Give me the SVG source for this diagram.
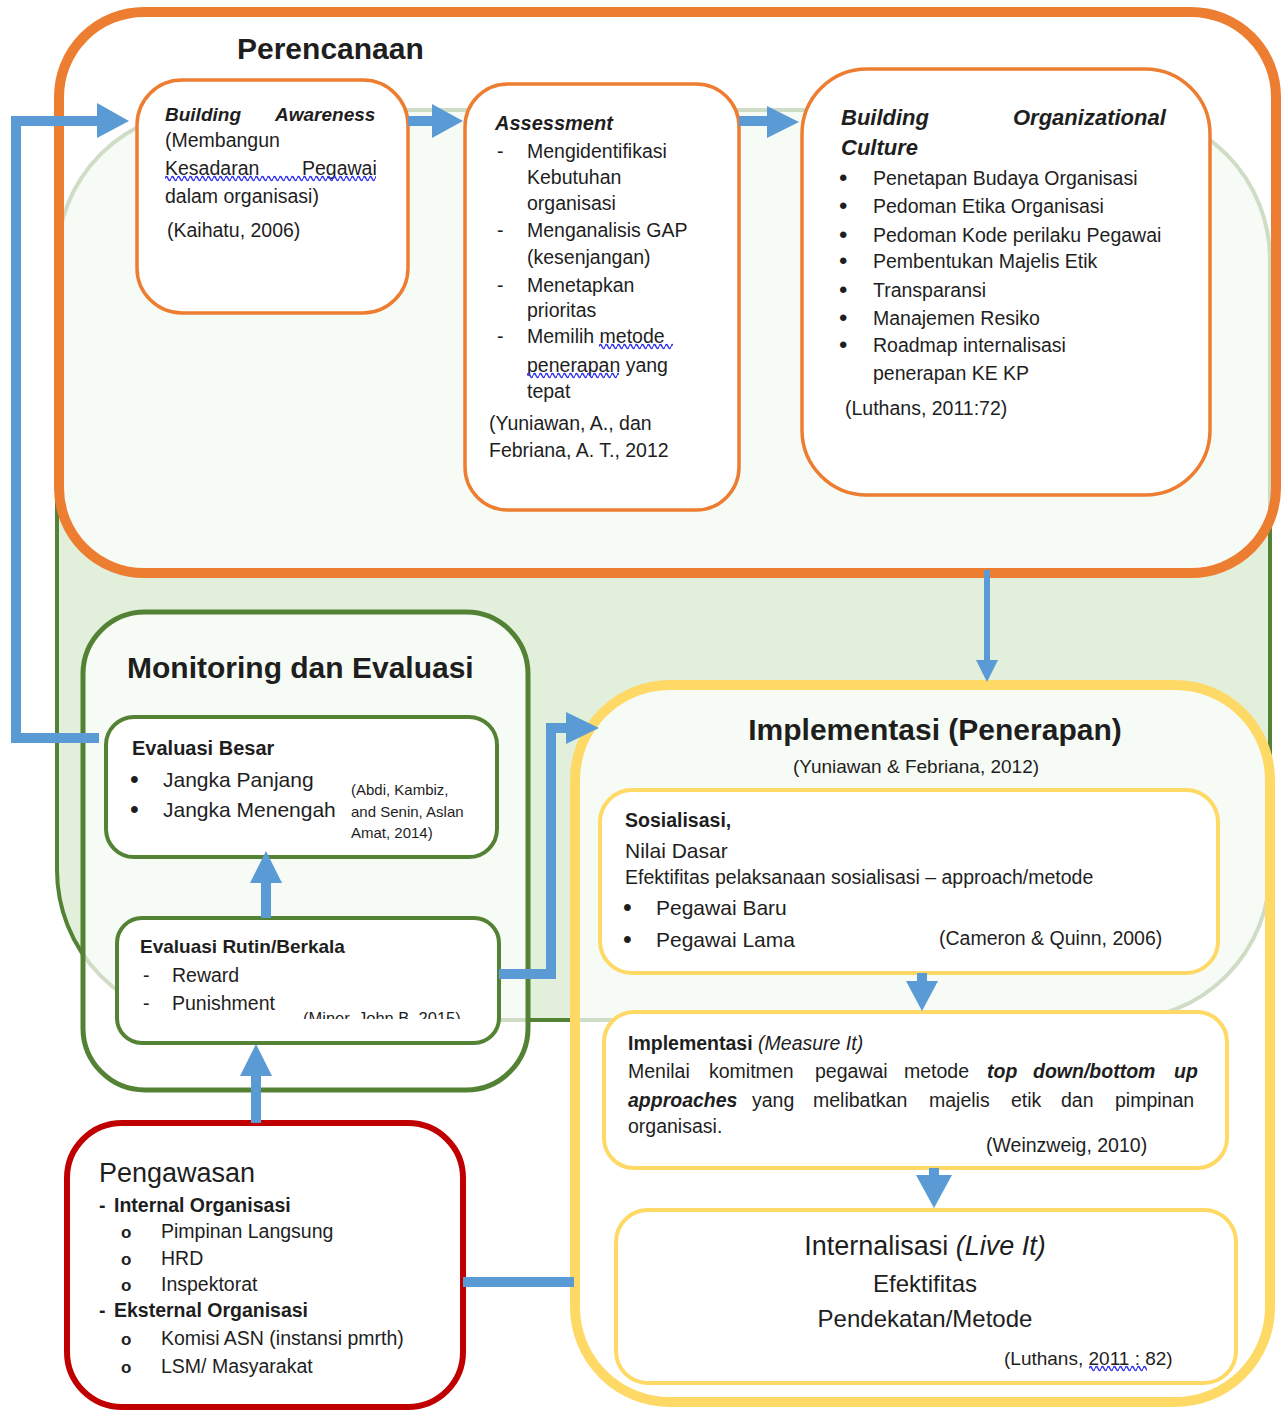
<svg xmlns="http://www.w3.org/2000/svg" width="1284" height="1412" viewBox="0 0 1284 1412" font-size="19.5">
<style>
.t{font-family:"Liberation Sans",Arial,sans-serif;fill:#1e1e1e}
.b{font-weight:bold}
.i{font-style:italic}
.outer{fill:#ffffff;fill-opacity:0.72}
.inner{fill:#ffffff}
.or{stroke:#ed7d31}
.gr{stroke:#548235}
.ye{stroke:#ffd966}
.con{stroke:#5b9bd5;fill:none}
.head{fill:#5b9bd5}
.sq{fill:url(#wavy)}
</style>
<defs>
<pattern id="wavy" width="6" height="7" patternUnits="userSpaceOnUse">
<path d="M0,3.5 Q1.5,-0.5 3,3.5 T6,3.5" fill="none" stroke="#3030f0" stroke-width="1.5"/>
</pattern>
<clipPath id="clipMiner"><rect x="290" y="990" width="200" height="29"/></clipPath>
</defs>
<rect width="1284" height="1412" fill="#ffffff"/>

<g id="background">
<rect x="57" y="110" width="1213" height="910" rx="150" fill="#e2efda" stroke="#548235" stroke-width="4"/>
</g>

<g id="perencanaan">
<rect class="outer or" x="59" y="12" width="1217" height="561" rx="85" stroke-width="10"/>
<text class="t b" x="237" y="59" font-size="30">Perencanaan</text>
</g>

<g id="monitoring">
<rect class="outer gr" x="83" y="612" width="445" height="478" rx="62" stroke-width="5"/>
<text class="t b" x="127" y="678" font-size="30">Monitoring dan Evaluasi</text>
</g>

<g id="implementasi">
<rect class="outer ye" x="575" y="685" width="695" height="717" rx="95" stroke-width="10"/>
<text class="t b" x="935" y="740" font-size="30" text-anchor="middle">Implementasi (Penerapan)</text>
<text class="t" x="916" y="773" font-size="19" text-anchor="middle">(Yuniawan &amp; Febriana, 2012)</text>
</g>

<g id="pengawasan">
<rect class="inner" x="67" y="1123" width="396" height="284" rx="55" stroke="#c00000" stroke-width="6"/>
<text class="t" x="99" y="1182" font-size="27">Pengawasan</text>
<text class="t b"><tspan x="99" y="1212">-</tspan><tspan x="114" y="1212">Internal Organisasi</tspan></text>
<text class="t"><tspan x="121" y="1238" font-size="17" font-weight="bold">o</tspan><tspan x="161" y="1238">Pimpinan Langsung</tspan></text>
<text class="t"><tspan x="121" y="1265" font-size="17" font-weight="bold">o</tspan><tspan x="161" y="1265">HRD</tspan></text>
<text class="t"><tspan x="121" y="1291" font-size="17" font-weight="bold">o</tspan><tspan x="161" y="1291">Inspektorat</tspan></text>
<text class="t b"><tspan x="99" y="1317">-</tspan><tspan x="114" y="1317">Eksternal Organisasi</tspan></text>
<text class="t"><tspan x="121" y="1345" font-size="17" font-weight="bold">o</tspan><tspan x="161" y="1345">Komisi ASN (instansi pmrth)</tspan></text>
<text class="t"><tspan x="121" y="1373" font-size="17" font-weight="bold">o</tspan><tspan x="161" y="1373">LSM/ Masyarakat</tspan></text>
</g>

<g id="building-awareness">
<rect class="inner or" x="137" y="80" width="271" height="233" rx="45" stroke-width="3.5"/>
<text class="t b i" font-size="19"><tspan x="165" y="121">Building</tspan><tspan x="275" y="121">Awareness</tspan></text>
<text class="t" x="165" y="147">(Membangun</text>
<text class="t"><tspan x="165" y="175">Kesadaran</tspan><tspan x="302" y="175">Pegawai</tspan></text>
<rect class="sq" width="211" height="7" transform="translate(165,175)"/>
<text class="t" x="165" y="203">dalam organisasi)</text>
<text class="t" x="167" y="237">(Kaihatu, 2006)</text>
</g>

<g id="assessment">
<rect class="inner or" x="465" y="84" width="274" height="426" rx="43" stroke-width="3.5"/>
<text class="t b i" x="495" y="130" font-size="20">Assessment</text>
<text class="t"><tspan x="497" y="158">-</tspan><tspan x="527" y="158">Mengidentifikasi</tspan><tspan x="527" y="184">Kebutuhan</tspan><tspan x="527" y="210">organisasi</tspan></text>
<text class="t"><tspan x="497" y="237">-</tspan><tspan x="527" y="237">Menganalisis GAP</tspan><tspan x="527" y="264">(kesenjangan)</tspan></text>
<text class="t"><tspan x="497" y="292">-</tspan><tspan x="527" y="292">Menetapkan</tspan><tspan x="527" y="317">prioritas</tspan></text>
<text class="t"><tspan x="497" y="343">-</tspan><tspan x="527" y="343">Memilih metode</tspan><tspan x="527" y="372">penerapan yang</tspan><tspan x="527" y="398">tepat</tspan></text>
<rect class="sq" width="74" height="7" transform="translate(599,343)"/>
<rect class="sq" width="92" height="7" transform="translate(527,372)"/>
<text class="t"><tspan x="489" y="430">(Yuniawan, A., dan</tspan><tspan x="489" y="457">Febriana, A. T., 2012</tspan></text>
</g>

<g id="building-culture">
<rect class="inner or" x="802" y="69" width="408" height="426" rx="65" stroke-width="3.5"/>
<text class="t b i" font-size="22"><tspan x="841" y="125">Building</tspan><tspan x="1013" y="125">Organizational</tspan><tspan x="841" y="155">Culture</tspan></text>
<text class="t"><tspan x="839" y="186" font-size="24">•</tspan><tspan x="873" y="185">Penetapan Budaya Organisasi</tspan></text>
<text class="t"><tspan x="839" y="214" font-size="24">•</tspan><tspan x="873" y="213">Pedoman Etika Organisasi</tspan></text>
<text class="t"><tspan x="839" y="243" font-size="24">•</tspan><tspan x="873" y="242">Pedoman Kode perilaku Pegawai</tspan></text>
<text class="t"><tspan x="839" y="269" font-size="24">•</tspan><tspan x="873" y="268">Pembentukan Majelis Etik</tspan></text>
<text class="t"><tspan x="839" y="298" font-size="24">•</tspan><tspan x="873" y="297">Transparansi</tspan></text>
<text class="t"><tspan x="839" y="326" font-size="24">•</tspan><tspan x="873" y="325">Manajemen Resiko</tspan></text>
<text class="t"><tspan x="839" y="353" font-size="24">•</tspan><tspan x="873" y="352">Roadmap internalisasi</tspan><tspan x="873" y="380">penerapan KE KP</tspan></text>
<text class="t" x="845" y="415">(Luthans, 2011:72)</text>
</g>

<g id="evaluasi-besar">
<rect class="inner gr" x="106" y="717" width="391" height="140" rx="28" stroke-width="4"/>
<text class="t b" x="132" y="755" font-size="20">Evaluasi Besar</text>
<text class="t" font-size="21"><tspan x="130" y="788" font-size="25">•</tspan><tspan x="163" y="787">Jangka Panjang</tspan></text>
<text class="t" font-size="21"><tspan x="130" y="818" font-size="25">•</tspan><tspan x="163" y="817">Jangka Menengah</tspan></text>
<text class="t" font-size="15"><tspan x="351" y="795">(Abdi, Kambiz,</tspan><tspan x="351" y="817">and Senin, Aslan</tspan><tspan x="351" y="838">Amat, 2014)</tspan></text>
</g>

<g id="evaluasi-rutin">
<rect class="inner gr" x="117" y="918" width="382" height="125" rx="25" stroke-width="4"/>
<text class="t b" x="140" y="953" font-size="19">Evaluasi Rutin/Berkala</text>
<text class="t"><tspan x="143" y="982">-</tspan><tspan x="172" y="982">Reward</tspan></text>
<text class="t"><tspan x="143" y="1010">-</tspan><tspan x="172" y="1010">Punishment</tspan></text>
<text class="t" x="303" y="1024" font-size="16.5" clip-path="url(#clipMiner)">(Miner, John B, 2015)</text>
</g>

<g id="sosialisasi">
<rect class="inner ye" x="600" y="790" width="618" height="183" rx="32" stroke-width="4"/>
<text class="t b" x="625" y="827">Sosialisasi,</text>
<text class="t" x="625" y="858" font-size="21">Nilai Dasar</text>
<text class="t" x="625" y="884">Efektifitas pelaksanaan sosialisasi – approach/metode</text>
<text class="t" font-size="21"><tspan x="623" y="916" font-size="25">•</tspan><tspan x="656" y="915">Pegawai Baru</tspan></text>
<text class="t" font-size="21"><tspan x="623" y="948" font-size="25">•</tspan><tspan x="656" y="947">Pegawai Lama</tspan></text>
<text class="t" x="939" y="945">(Cameron &amp; Quinn, 2006)</text>
</g>

<g id="measure-it">
<rect class="inner ye" x="604" y="1012" width="623" height="156" rx="30" stroke-width="4"/>
<text class="t" x="628" y="1050"><tspan class="b">Implementasi</tspan><tspan class="i"> (Measure It)</tspan></text>
<text class="t"><tspan x="628" y="1078">Menilai</tspan><tspan x="709" y="1078">komitmen</tspan><tspan x="815" y="1078">pegawai</tspan><tspan x="904" y="1078">metode</tspan><tspan class="b i" x="987" y="1078">top</tspan><tspan class="b i" x="1033" y="1078">down/bottom</tspan><tspan class="b i" x="1174" y="1078">up</tspan></text>
<text class="t"><tspan class="b i" x="628" y="1107">approaches</tspan><tspan x="752" y="1107">yang</tspan><tspan x="813" y="1107">melibatkan</tspan><tspan x="929" y="1107">majelis</tspan><tspan x="1011" y="1107">etik</tspan><tspan x="1061" y="1107">dan</tspan><tspan x="1115" y="1107">pimpinan</tspan></text>
<text class="t" x="628" y="1133">organisasi.</text>
<text class="t" x="986" y="1152">(Weinzweig, 2010)</text>
</g>

<g id="internalisasi">
<rect class="inner ye" x="616" y="1210" width="620" height="173" rx="32" stroke-width="4"/>
<text class="t" x="925" y="1255" font-size="27" text-anchor="middle">Internalisasi <tspan class="i">(Live It)</tspan></text>
<text class="t" x="925" y="1292" font-size="24" text-anchor="middle">Efektifitas</text>
<text class="t" x="925" y="1327" font-size="24" text-anchor="middle">Pendekatan/Metode</text>
<text class="t" x="1004" y="1365" font-size="19">(Luthans, 2011 : 82)</text>
<rect class="sq" width="58" height="7" transform="translate(1089,1365)"/>
</g>

<g id="connectors">
<path class="con" d="M99,738 H16 V121 H99" stroke-width="10"/>
<polygon class="head" points="97,103 129,121 97,138"/>
<path class="con" d="M408,121 H434" stroke-width="10"/>
<polygon class="head" points="432,104 463,121 432,138"/>
<path class="con" d="M739,121 H769" stroke-width="10"/>
<polygon class="head" points="767,106 799,122 767,138"/>
<path class="con" d="M987,570 V662" stroke-width="6"/>
<polygon class="head" points="976,660 987,682 998,660"/>
<path class="con" d="M499,974 H551 V728 H568" stroke-width="10"/>
<polygon class="head" points="566,712 599,728 566,744"/>
<path class="con" d="M266,918 V880" stroke-width="10"/>
<polygon class="head" points="250,883 266,851 282,883"/>
<path class="con" d="M256,1123 V1073" stroke-width="10"/>
<polygon class="head" points="240,1076 256,1044 272,1076"/>
<path class="con" d="M463,1282 H574" stroke-width="10"/>
<path class="con" d="M922,973 V984" stroke-width="10"/>
<polygon class="head" points="906,981 922,1011 938,981"/>
<path class="con" d="M934,1168 V1178" stroke-width="10"/>
<polygon class="head" points="916,1175 934,1208 952,1175"/>
</g>
</svg>
